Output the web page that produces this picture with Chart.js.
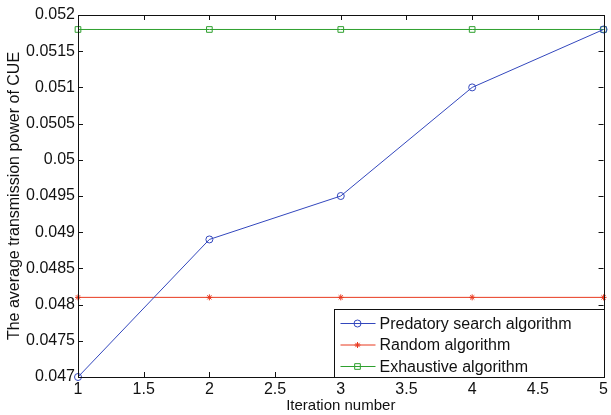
<!DOCTYPE html>
<html>
<head>
<meta charset="utf-8">
<script src="https://cdn.jsdelivr.net/npm/chart.js@4/dist/chart.umd.min.js"></script>
<style>
  html, body { margin: 0; padding: 0; background: #fff; }
  #wrap { width: 611px; height: 415px; position: relative; }
</style>
</head>
<body>
<div id="wrap"><canvas id="chart"></canvas></div>
<script>
// Data
const iterations = [1, 2, 3, 4, 5];
const predatory = [0.0470, 0.0489, 0.0495, 0.0510, 0.0518];
const randomAlg = [0.0481, 0.0481, 0.0481, 0.0481, 0.0481];
const exhaustive = [0.0518, 0.0518, 0.0518, 0.0518, 0.0518];
const seriesLabels = ['Predatory search algorithm', 'Random algorithm', 'Exhaustive algorithm'];

const FONT = '"Liberation Sans", Arial, sans-serif';
const BLUE = '#3347bd';
const RED = '#e8391f';
const GREEN = '#2ea02e';

function toPoints(values) {
  return iterations.map((x, i) => ({ x: x, y: values[i] }));
}

// MATLAB-style box with ticks drawn inward on all four sides
const boxTicks = {
  id: 'boxTicks',
  afterDraw(chart) {
    const ctx = chart.ctx;
    const a = chart.chartArea;
    const xs = chart.scales.x;
    const ys = chart.scales.y;
    const len = 5;
    ctx.save();
    ctx.strokeStyle = '#111';
    ctx.lineWidth = 1;
    ctx.beginPath();
    xs.ticks.forEach(t => {
      const px = Math.round(xs.getPixelForValue(t.value)) + 0.5;
      ctx.moveTo(px, a.bottom);
      ctx.lineTo(px, a.bottom - len);
      ctx.moveTo(px, a.top);
      ctx.lineTo(px, a.top + len);
    });
    ys.ticks.forEach(t => {
      const py = Math.round(ys.getPixelForValue(t.value)) + 0.5;
      ctx.moveTo(a.left, py);
      ctx.lineTo(a.left + len, py);
      ctx.moveTo(a.right, py);
      ctx.lineTo(a.right - len, py);
    });
    ctx.stroke();
    ctx.strokeRect(Math.round(a.left) + 0.5, Math.round(a.top) + 0.5,
      Math.round(a.right - a.left), Math.round(a.bottom - a.top));
    ctx.restore();
  }
};

// Legend box in the lower right corner of the axes
const boxLegend = {
  id: 'boxLegend',
  afterDraw(chart) {
    const ctx = chart.ctx;
    const a = chart.chartArea;
    const w = 270, h = 68;
    const x0 = Math.round(a.right - w) + 0.5;
    const y0 = Math.round(a.bottom - h) + 0.5;
    ctx.save();
    ctx.fillStyle = '#fff';
    ctx.fillRect(x0, y0, w, h);
    ctx.strokeStyle = '#111';
    ctx.lineWidth = 1;
    ctx.strokeRect(x0, y0, w, h);
    ctx.font = '16px ' + FONT;
    ctx.textBaseline = 'middle';
    chart.data.datasets.forEach((ds, i) => {
      const cy = y0 + 14 + i * 21.5;
      ctx.strokeStyle = ds.borderColor;
      ctx.lineWidth = 1;
      ctx.beginPath();
      ctx.moveTo(x0 + 6, cy);
      ctx.lineTo(x0 + 41, cy);
      ctx.stroke();
      ctx.fillStyle = ds.pointStyle === 'star' ? ds.borderColor : 'rgba(0,0,0,0)';
      Chart.helpers.drawPoint(ctx, {
        pointStyle: ds.pointStyle,
        radius: ds.pointRadius,
        borderWidth: 1
      }, x0 + 23, cy);
      ctx.fillStyle = '#111';
      ctx.fillText(ds.label, x0 + 45, cy + 1);
    });
    ctx.restore();
  }
};

new Chart(document.getElementById('chart'), {
  type: 'line',
  data: {
    datasets: [
      {
        label: seriesLabels[0],
        data: toPoints(predatory),
        borderColor: BLUE,
        backgroundColor: 'rgba(0,0,0,0)',
        pointBorderColor: BLUE,
        pointStyle: 'circle',
        pointRadius: 3.5,
      },
      {
        label: seriesLabels[1],
        data: toPoints(randomAlg),
        borderColor: RED,
        backgroundColor: RED,
        pointBorderColor: RED,
        pointStyle: 'star',
        pointRadius: 3,
      },
      {
        label: seriesLabels[2],
        data: toPoints(exhaustive),
        borderColor: GREEN,
        backgroundColor: 'rgba(0,0,0,0)',
        pointBorderColor: GREEN,
        pointStyle: 'rect',
        pointRadius: 4,
      },
    ],
  },
  options: {
    responsive: true,
    maintainAspectRatio: false,
    animation: false,
    clip: false,
    layout: { padding: { left: 0, top: 15, right: 4, bottom: 0 } },
    elements: {
      line: { borderWidth: 1, tension: 0 },
      point: { borderWidth: 1, hoverRadius: 4 },
    },
    plugins: {
      legend: { display: false },
      tooltip: { enabled: false },
      title: { display: false },
    },
    scales: {
      x: {
        type: 'linear',
        min: 1,
        max: 5,
        ticks: {
          stepSize: 0.5,
          color: '#111',
          font: { family: FONT, size: 16 },
          padding: 3,
          maxRotation: 0,
          callback: v => String(v),
        },
        grid: { display: false, drawTicks: false },
        border: { display: false },
        title: {
          display: true,
          text: 'Iteration number',
          color: '#111',
          font: { family: FONT, size: 15 },
          padding: { top: 0, bottom: 0 },
        },
        afterFit(scale) { scale.height = 38; },
      },
      y: {
        min: 0.047,
        max: 0.052,
        ticks: {
          stepSize: 0.0005,
          color: '#111',
          font: { family: FONT, size: 16 },
          padding: 3,
          callback: v => String(parseFloat(v.toFixed(4))),
        },
        grid: { display: false, drawTicks: false },
        border: { display: false },
        title: {
          display: true,
          text: 'The average transmission power of CUE',
          color: '#111',
          font: { family: FONT, size: 16 },
          padding: { top: 4.5, bottom: 0 },
        },
        afterFit(scale) { scale.width = 78; },
      },
    },
  },
  plugins: [boxTicks, boxLegend],
});
</script>
</body>
</html>
